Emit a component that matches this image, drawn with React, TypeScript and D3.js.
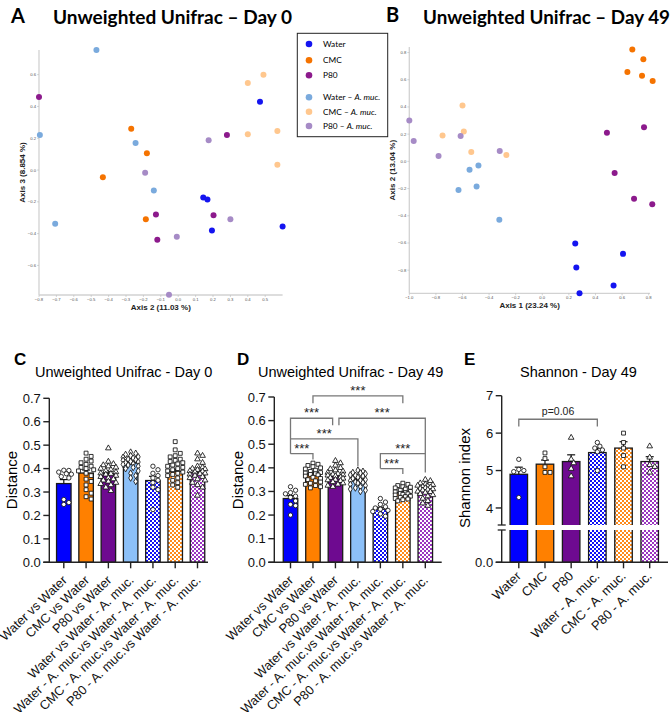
import React from 'react';
import * as d3 from 'd3';

// ---------------- PCoA (panels A & B) ----------------
const legendNames = ['Water', 'CMC', 'P80', 'Water – A. muc.', 'CMC – A. muc.', 'P80 – A. muc.'];
const pcoaColors = ['#1414F0', '#F57300', '#8C1A8C', '#7AAADD', '#FFC78E', '#A68BC6'];

const d0Water = [[0.47, 0.43], [0.144, -0.172], [0.168, -0.185], [0.194, -0.38], [0.6, -0.355]];
const d0CMC = [[-0.27, 0.26], [-0.18, 0.105], [-0.433, -0.046], [-0.186, -0.31]];
const d0P80 = [[-0.8, 0.46], [0.28, 0.22], [-0.128, -0.28], [0.203, -0.285], [-0.12, -0.438]];
const d0WaterAm = [[-0.47, 0.755], [-0.795, 0.22], [-0.245, 0.17], [-0.14, -0.128], [-0.707, -0.338]];
const d0CMCAm = [[0.4, 0.547], [0.49, 0.6], [0.4, 0.225], [0.57, 0.245], [0.57, 0.033]];
const d0P80Am = [[0.175, 0.187], [-0.19, -0.017], [0.3, -0.31], [-0.008, -0.42], [-0.053, -0.784]];

const d49Water = [[0.248, -0.603], [0.607, -0.68], [0.256, -0.78], [0.536, -0.912], [0.28, -0.97]];
const d49CMC = [[0.677, 0.823], [0.76, 0.75], [0.64, 0.657], [0.75, 0.63], [0.83, 0.59]];
const d49P80 = [[0.765, 0.25], [0.486, 0.21], [0.544, -0.086], [0.69, -0.275], [0.827, -0.316]];
const d49WaterAm = [[-0.48, -0.03], [-0.547, -0.062], [-0.63, -0.21], [-0.494, -0.184], [-0.323, -0.43]];
const d49CMCAm = [[-0.75, 0.19], [-0.6, 0.41], [-0.59, 0.22], [-0.534, 0.068], [-0.27, 0.046]];
const d49P80Am = [[-1.0, 0.3], [-0.967, 0.149], [-0.614, 0.186], [-0.78, 0.04], [-0.32, 0.076]];

const aXTicks = [-0.8, -0.7, -0.6, -0.5, -0.4, -0.3, -0.2, -0.1, 0, 0.1, 0.2, 0.3, 0.4, 0.5];
const aYTicks = [-0.6, -0.4, -0.2, 0, 0.2, 0.4, 0.6];
const bXTicks = [-1.0, -0.8, -0.6, -0.4, -0.2, 0, 0.2, 0.4, 0.6, 0.8];
const bYTicks = [-0.8, -0.6, -0.4, -0.2, 0, 0.2, 0.4, 0.6, 0.8];

// ---------------- Unifrac distances (panels C & D) ----------------
const unifracCategories = [
  'Water vs Water', 'CMC vs Water', 'P80 vs Water', 'Water vs Water - A. muc.',
  'Water - A. muc.vs Water - A. muc.', 'CMC - A. muc.vs Water - A. muc.', 'P80 - A. muc.vs Water - A. muc.',
];
const distTicks = [0, 0.1, 0.2, 0.3, 0.4, 0.5, 0.6, 0.7];

const day0Means = [0.336, 0.381, 0.378, 0.424, 0.349, 0.388, 0.384];
const day0Sems = [0.017, 0.013, 0.008, 0.006, 0.018, 0.009, 0.008];
const day0Points = [
  [0.393, 0.392, 0.385, 0.378, 0.376, 0.366, 0.36, 0.268, 0.255, 0.247],
  [0.466, 0.452, 0.44, 0.432, 0.425, 0.418, 0.41, 0.405, 0.4, 0.395, 0.39, 0.38, 0.37, 0.355, 0.345, 0.33, 0.31, 0.295, 0.28, 0.27],
  [0.487, 0.43, 0.42, 0.415, 0.41, 0.405, 0.4, 0.395, 0.39, 0.385, 0.38, 0.378, 0.375, 0.37, 0.365, 0.36, 0.355, 0.35, 0.345, 0.34, 0.335, 0.33, 0.32, 0.305],
  [0.47, 0.465, 0.46, 0.455, 0.45, 0.448, 0.445, 0.44, 0.438, 0.435, 0.43, 0.428, 0.425, 0.42, 0.418, 0.415, 0.41, 0.405, 0.4, 0.39, 0.38, 0.37, 0.36, 0.345],
  [0.41, 0.395, 0.38, 0.37, 0.36, 0.35, 0.34, 0.32, 0.31, 0.225],
  [0.515, 0.48, 0.465, 0.455, 0.45, 0.44, 0.435, 0.43, 0.425, 0.42, 0.415, 0.41, 0.405, 0.4, 0.395, 0.39, 0.385, 0.38, 0.375, 0.37, 0.36, 0.35, 0.34, 0.33, 0.32],
  [0.465, 0.455, 0.44, 0.425, 0.41, 0.405, 0.4, 0.398, 0.395, 0.39, 0.388, 0.385, 0.38, 0.378, 0.375, 0.37, 0.365, 0.36, 0.355, 0.35, 0.34, 0.33, 0.32, 0.285],
];

const day49Means = [0.27, 0.375, 0.366, 0.35, 0.225, 0.295, 0.31];
const day49Sems = [0.012, 0.006, 0.005, 0.005, 0.008, 0.004, 0.005];
const day49Points = [
  [0.32, 0.305, 0.295, 0.29, 0.28, 0.275, 0.26, 0.245, 0.24, 0.2],
  [0.42, 0.415, 0.41, 0.405, 0.4, 0.395, 0.39, 0.385, 0.38, 0.378, 0.375, 0.372, 0.37, 0.365, 0.36, 0.355, 0.35, 0.345, 0.34, 0.335, 0.33, 0.325, 0.32, 0.315],
  [0.43, 0.42, 0.41, 0.4, 0.395, 0.39, 0.385, 0.38, 0.375, 0.372, 0.37, 0.368, 0.365, 0.36, 0.358, 0.355, 0.35, 0.348, 0.345, 0.34, 0.335, 0.33, 0.325, 0.32],
  [0.39, 0.385, 0.38, 0.378, 0.375, 0.37, 0.368, 0.365, 0.36, 0.355, 0.35, 0.348, 0.345, 0.34, 0.338, 0.335, 0.33, 0.325, 0.32, 0.315, 0.31, 0.305, 0.3],
  [0.27, 0.255, 0.245, 0.235, 0.23, 0.225, 0.22, 0.215, 0.205, 0.195],
  [0.335, 0.33, 0.325, 0.32, 0.318, 0.315, 0.31, 0.305, 0.3, 0.298, 0.295, 0.292, 0.29, 0.288, 0.285, 0.28, 0.278, 0.275, 0.27, 0.268, 0.265, 0.26],
  [0.35, 0.345, 0.335, 0.33, 0.328, 0.325, 0.322, 0.32, 0.318, 0.315, 0.312, 0.31, 0.308, 0.305, 0.3, 0.298, 0.295, 0.29, 0.285, 0.28, 0.27, 0.26, 0.25, 0.24],
];
// comparisons: bar a, bar b, bracket level, leg end at a, leg end at b
const day49Comparisons = [
  { a: 1, b: 5, level: 0.705, endA: 0.674, endB: 0.674, label: '***' },
  { a: 0, b: 2, level: 0.61, endA: 0.46, endB: 0.58, label: '***' },
  { a: 0, b: 3, level: 0.523, endA: 0.523, endB: 0.407, label: '***' },
  { a: 0, b: 1, level: 0.46, endA: 0.46, endB: 0.435, label: '***' },
  { a: 2, b: 6, level: 0.61, endA: 0.58, endB: 0.38, label: '***' },
  { a: 4, b: 6, level: 0.46, endA: 0.397, endB: 0.46, label: '***' },
  { a: 4, b: 5, level: 0.397, endA: 0.397, endB: 0.374, label: '***' },
];

// ---------------- Shannon (panel E) ----------------
const shannonCategories = ['Water', 'CMC', 'P80', 'Water - A. muc.', 'CMC - A. muc.', 'P80 - A. muc.'];
const shannonMeans = [4.9, 5.17, 5.24, 5.48, 5.6, 5.24];
const shannonSems = [0.19, 0.11, 0.18, 0.12, 0.17, 0.13];
const shannonPoints = [
  [5.3, 5.03, 5.0, 4.97, 4.28],
  [5.47, 5.32, 5.1, 4.95, 4.95],
  [5.88, 5.3, 5.2, 5.05, 4.85],
  [5.75, 5.65, 5.6, 5.55, 5.5, 5.0],
  [6.0, 5.75, 5.6, 5.4, 5.1],
  [5.65, 5.35, 5.15, 5.1, 4.95],
];
const shannonTicks = [4, 5, 6, 7];
const shannonComparisons = [{ a: 0, b: 3, level: 6.37, endA: 6.18, endB: 6.18, label: 'p=0.06' }];

// ---------------- helpers ----------------
const fmt1 = d3.format('.1f');
const ARIAL = 'Liberation Sans, Arial, sans-serif';
const CAL = 'Lato, Liberation Sans, sans-serif';

function swarm(values: number[], y: (v: number) => number, r: number, maxOff: number) {
  const order = values.map((_, i) => i).sort((a, b) => values[b] - values[a]);
  const placed: { x: number; y: number }[] = [];
  const out: { dx: number; y: number }[] = new Array(values.length);
  const step = r * 1.15;
  const cands: number[] = [0];
  for (let k = 1; k * step <= maxOff + 0.01; k++) cands.push(k * step, -k * step);
  for (const i of order) {
    const py = y(values[i]);
    let best = 0;
    let bestD = -1;
    for (const c of cands) {
      let minD = Infinity;
      for (const p of placed) {
        const d = Math.hypot(p.x - c, p.y - py);
        if (d < minD) minD = d;
      }
      if (minD >= 2 * r) { best = c; bestD = minD; break; }
      if (minD > bestD) { bestD = minD; best = c; }
    }
    placed.push({ x: best, y: py });
    out[i] = { dx: best, y: py };
  }
  return out;
}

function LegendLabel({ text, x, y, size }: { text: string; x: number; y: number; size: number }) {
  const k = text.indexOf('A. muc.');
  if (k < 0) return <text x={x} y={y} fontSize={size} fontFamily={CAL} dy="0.35em">{text}</text>;
  return (
    <text x={x} y={y} fontSize={size} fontFamily={CAL} dy="0.35em">
      {text.slice(0, k)}<tspan fontStyle="italic">A. muc.</tspan>
    </text>
  );
}

function PcoaPanel(props: {
  xScale: d3.ScaleLinear<number, number>; yScale: d3.ScaleLinear<number, number>;
  xTicks: number[]; yTicks: number[]; data: number[][][];
  xTitle: string; yTitle: string; yTitleX: number;
}) {
  const { xScale, yScale, xTicks, yTicks, data, xTitle, yTitle, yTitleX } = props;
  const [x0, x1] = xScale.range();
  const [yb, yt] = yScale.range();
  return (
    <g>
      <line x1={x0} x2={x0} y1={yb} y2={yt} stroke="#d2d2d2" strokeWidth={1.3} />
      <line x1={x0} x2={x1} y1={yb} y2={yb} stroke="#d2d2d2" strokeWidth={1.3} />
      {yTicks.map((t) => (
        <g key={'y' + t}>
          <line x1={x0 - 2} x2={x0} y1={yScale(t)} y2={yScale(t)} stroke="#bbb" strokeWidth={0.6} />
          <text x={x0 - 3} y={yScale(t)} dy="0.35em" fontSize={4.2} textAnchor="end" fill="#555" fontFamily={ARIAL}>{fmt1(t)}</text>
        </g>
      ))}
      {xTicks.map((t) => (
        <g key={'x' + t}>
          <line x1={xScale(t)} x2={xScale(t)} y1={yb} y2={yb + 2} stroke="#bbb" strokeWidth={0.6} />
          <text x={xScale(t)} y={yb + 6} fontSize={4.2} textAnchor="middle" fill="#555" fontFamily={ARIAL}>{fmt1(t)}</text>
        </g>
      ))}
      {data.map((pts, gi) => pts.map((p, i) => (
        <circle key={gi + '-' + i} cx={xScale(p[0])} cy={yScale(p[1])} r={3} fill={pcoaColors[gi]} />
      )))}
      <text x={(x0 + x1) / 2} y={yb + 14.5} fontSize={8} fontWeight="bold" textAnchor="middle" fontFamily={ARIAL} fill="#222">{xTitle}</text>
      <text transform={`translate(${yTitleX},${(yb + yt) / 2}) rotate(-90)`} fontSize={8} fontWeight="bold" textAnchor="middle" fontFamily={ARIAL} fill="#222">{yTitle}</text>
    </g>
  );
}

type Comp = { a: number; b: number; level: number; endA: number; endB: number; label: string };

function BarPanel(props: {
  categories: string[]; means: number[]; sems: number[]; points: number[][];
  fills: string[]; shapes: d3.SymbolType[];
  first: number; last: number; barW: number;
  y: (v: number) => number; zeroY: number; topY: number;
  axisX: number; axisRight: number;
  ticks: { v: number; label: string; y: number }[];
  comps: Comp[]; compSize: number; labelAngle: number; labelDx: number; labelY: number; labelSize: number;
  brk?: [number, number];
}) {
  const p = props;
  const x = d3.scalePoint<string>().domain(p.categories).range([p.first, p.last]);
  const sym = (t: d3.SymbolType, s: number) => d3.symbol().type(t).size(s)() as string;
  return (
    <g>
      {p.categories.map((c, i) => (
        <rect key={'b' + i} x={(x(c) as number) - p.barW / 2} y={p.y(p.means[i])} width={p.barW}
          height={p.zeroY - p.y(p.means[i])} fill={p.fills[i]} stroke="#1a1a1a" strokeWidth={1.3} />
      ))}
      {p.categories.map((c, i) => {
        const cx = x(c) as number;
        const yt = p.y(p.means[i] + p.sems[i]);
        return (
          <g key={'e' + i} stroke="#111" strokeWidth={1.2}>
            <line x1={cx} x2={cx} y1={p.y(p.means[i])} y2={yt} />
            <line x1={cx - 4} x2={cx + 4} y1={yt} y2={yt} />
          </g>
        );
      })}
      {p.categories.map((c, i) => {
        const cx = x(c) as number;
        const pos = swarm(p.points[i], p.y, 2.2, p.barW / 2 + 1);
        const shape = p.shapes[i];
        const size = shape === d3.symbolCircle ? 15 : shape === d3.symbolSquare ? 15 : shape === d3.symbolDiamond ? 13 : 14;
        const path = sym(shape, size);
        return pos.map((q, j) => (
          <path key={'p' + i + '-' + j} d={path} transform={`translate(${cx + q.dx},${q.y})`} fill="#fff" stroke="#111" strokeWidth={0.85} />
        ));
      })}
      {/* axes */}
      <line x1={p.axisX} x2={p.axisX} y1={p.zeroY} y2={p.topY} stroke="#222" strokeWidth={1.4} />
      <line x1={p.axisX - 6} x2={p.axisRight} y1={p.zeroY} y2={p.zeroY} stroke="#222" strokeWidth={1.4} />
      {p.ticks.map((t) => (
        <g key={'t' + t.v}>
          <line x1={p.axisX - 6} x2={p.axisX} y1={t.y} y2={t.y} stroke="#222" strokeWidth={1.4} />
          <text x={p.axisX - 8.5} y={t.y} dy="0.36em" textAnchor="end" fontSize={13} fontFamily={ARIAL} fill="#111">{t.label}</text>
        </g>
      ))}
      {p.brk && (
        <g>
          <rect x={p.axisX - 8} y={p.brk[0]} width={p.axisRight - p.axisX + 8} height={p.brk[1] - p.brk[0]} fill="#fff" />
          <line x1={p.axisX - 4} x2={p.axisX + 4} y1={p.brk[0]} y2={p.brk[0]} stroke="#222" strokeWidth={1.3} />
          <line x1={p.axisX - 4} x2={p.axisX + 4} y1={p.brk[1]} y2={p.brk[1]} stroke="#222" strokeWidth={1.3} />
        </g>
      )}
      {p.categories.map((c, i) => {
        const cx = x(c) as number;
        return (
          <g key={'xl' + i}>
            <line x1={cx} x2={cx} y1={p.zeroY} y2={p.zeroY + 6} stroke="#222" strokeWidth={1.4} />
            <text transform={`translate(${cx + p.labelDx},${p.labelY}) rotate(${p.labelAngle})`} textAnchor="end"
              fontSize={p.labelSize} fontFamily={ARIAL} fill="#111">{c}</text>
          </g>
        );
      })}
      {p.comps.map((cp, k) => {
        const shared = (bar: number) => p.comps.some((o, kk) => kk !== k && o.level === cp.level && (o.a === bar || o.b === bar));
        const xa = (x(p.categories[cp.a]) as number) + (shared(cp.a) ? 3.5 : 0);
        const xb = (x(p.categories[cp.b]) as number) - (shared(cp.b) ? 2.8 : 0);
        const yl = p.y(cp.level);
        return (
          <g key={'c' + k}>
            <path d={`M${xa},${p.y(cp.endA)}V${yl}H${xb}V${p.y(cp.endB)}`} fill="none" stroke="#777" strokeWidth={1.3} />
            <text x={(xa + xb) / 2} y={yl - (cp.label === '***' ? 1 : 4)} textAnchor="middle" fontSize={p.compSize} fontFamily={ARIAL} fill="#222">{cp.label}</text>
          </g>
        );
      })}
    </g>
  );
}

export default function App() {
  const xA = d3.scaleLinear().domain([-0.8, 0.6]).range([39, 282.6]);
  const yA = d3.scaleLinear().domain([-0.786, 0.755]).range([295, 50]);
  const xB = d3.scaleLinear().domain([-1.0, 0.81]).range([409.3, 650]);
  const yB = d3.scaleLinear().domain([-0.97, 0.84]).range([293.3, 47.1]);

  const yC = d3.scaleLinear().domain([0, 0.7]).range([562.3, 398.3]);
  const yD = d3.scaleLinear().domain([0, 0.7]).range([562.3, 397]);
  const yEu = d3.scaleLinear().domain([3.55, 7]).range([524.8, 395.7]);

  const solid = ['#0000FF', '#FF8000', '#6E0A90'];
  const unifracFills = [...solid, '#8CC0F8', 'url(#chkBlue)', 'url(#chkOrange)', 'url(#chkPurple)'];
  const shannonFills = [...solid, 'url(#chkBlue)', 'url(#chkOrange)', 'url(#chkPurple)'];
  const unifracShapes = [d3.symbolCircle, d3.symbolSquare, d3.symbolTriangle, d3.symbolDiamond, d3.symbolCircle, d3.symbolSquare, d3.symbolTriangle];
  const shannonShapes = [d3.symbolCircle, d3.symbolSquare, d3.symbolTriangle, d3.symbolCircle, d3.symbolSquare, d3.symbolTriangle];

  const chk = (id: string, col: string) => (
    <pattern id={id} width={4} height={4} patternUnits="userSpaceOnUse">
      <rect width={4} height={4} fill={col} />
      <rect width={2} height={2} fill="#fff" />
      <rect x={2} y={2} width={2} height={2} fill="#fff" />
    </pattern>
  );

  const legendRows = [44, 60.3, 75.3, 97.3, 111.7, 126];

  return (
    <svg width={672} height={712} style={{ position: 'absolute', left: 0, top: 0, background: '#fff' }}>
      <defs>
        {chk('chkBlue', '#1010F5')}
        {chk('chkOrange', '#FF8A1A')}
        {chk('chkPurple', '#9A35C0')}
      </defs>
      <rect width={672} height={712} fill="#fff" />

      {/* Panel A */}
      <text x={11} y={23} fontSize={20} fontWeight="bold" fontFamily={CAL}>A</text>
      <text x={53} y={24} fontSize={19} fontWeight="bold" fontFamily={CAL} textLength={239} lengthAdjust="spacingAndGlyphs">Unweighted Unifrac – Day 0</text>
      <PcoaPanel xScale={xA} yScale={yA} xTicks={aXTicks} yTicks={aYTicks}
        data={[d0Water, d0CMC, d0P80, d0WaterAm, d0CMCAm, d0P80Am]}
        xTitle="Axis 2 (11.03 %)" yTitle="Axis 3 (8.854 %)" yTitleX={24.5} />

      {/* Panel B */}
      <text x={386} y={22} fontSize={20} fontWeight="bold" fontFamily={CAL}>B</text>
      <text x={423} y={24} fontSize={19} fontWeight="bold" fontFamily={CAL} textLength={247} lengthAdjust="spacingAndGlyphs">Unweighted Unifrac – Day 49</text>
      <PcoaPanel xScale={xB} yScale={yB} xTicks={bXTicks} yTicks={bYTicks}
        data={[d49Water, d49CMC, d49P80, d49WaterAm, d49CMCAm, d49P80Am]}
        xTitle="Axis 1 (23.24 %)" yTitle="Axis 2 (13.04 %)" yTitleX={395} />

      {/* Legend */}
      <rect x={297.3} y={33.3} width={90.4} height={103.4} fill="#fff" stroke="#222" strokeWidth={1} />
      {legendNames.map((n, i) => (
        <g key={'lg' + i}>
          <circle cx={309} cy={legendRows[i]} r={3.3} fill={pcoaColors[i]} />
          <LegendLabel text={n} x={323} y={legendRows[i]} size={8.3} />
        </g>
      ))}

      {/* Panel C */}
      <text x={14} y={365} fontSize={17} fontWeight="bold" fontFamily={ARIAL}>C</text>
      <text x={35} y={376.5} fontSize={14.5} fontFamily={ARIAL}>Unweighted Unifrac - Day 0</text>
      <text transform="translate(16.5,480) rotate(-90)" textAnchor="middle" fontSize={15} fontFamily={ARIAL}>Distance</text>
      <BarPanel categories={unifracCategories} means={day0Means} sems={day0Sems} points={day0Points}
        fills={unifracFills} shapes={unifracShapes} first={63.8} last={197.5} barW={14.5}
        y={yC} zeroY={562.3} topY={398.3} axisX={49.3} axisRight={208}
        ticks={distTicks.map((v) => ({ v, label: fmt1(v), y: yC(v) }))}
        comps={[]} compSize={13} labelAngle={-44} labelDx={4} labelY={581} labelSize={12.8} />

      {/* Panel D */}
      <text x={237} y={365} fontSize={17} fontWeight="bold" fontFamily={ARIAL}>D</text>
      <text x={258} y={376.5} fontSize={14.5} fontFamily={ARIAL}>Unweighted Unifrac - Day 49</text>
      <text transform="translate(243,480) rotate(-90)" textAnchor="middle" fontSize={15} fontFamily={ARIAL}>Distance</text>
      <BarPanel categories={unifracCategories} means={day49Means} sems={day49Sems} points={day49Points}
        fills={unifracFills} shapes={unifracShapes} first={290.5} last={425.3} barW={14.5}
        y={yD} zeroY={562.3} topY={397} axisX={274.3} axisRight={441.7}
        ticks={distTicks.map((v) => ({ v, label: fmt1(v), y: yD(v) }))}
        comps={day49Comparisons} compSize={13} labelAngle={-44} labelDx={3.5} labelY={581} labelSize={12.8} />

      {/* Panel E */}
      <text x={464} y={365} fontSize={17} fontWeight="bold" fontFamily={ARIAL}>E</text>
      <text x={520} y={376.5} fontSize={14.5} fontFamily={ARIAL}>Shannon - Day 49</text>
      <text transform="translate(469.5,478) rotate(-90)" textAnchor="middle" fontSize={15} fontFamily={ARIAL}>Shannon index</text>
      <BarPanel categories={shannonCategories} means={shannonMeans} sems={shannonSems} points={shannonPoints}
        fills={shannonFills} shapes={shannonShapes} first={518.8} last={649.7} barW={17.5}
        y={(v) => (v < 1 ? 562.3 : yEu(v))} zeroY={562.3} topY={395.7} axisX={501.7} axisRight={668}
        ticks={[...shannonTicks.map((v) => ({ v, label: String(v), y: yEu(v) })), { v: 0, label: '0.0', y: 562.3 }]}
        comps={shannonComparisons} compSize={10.5} labelAngle={-44} labelDx={3} labelY={577} labelSize={13}
        brk={[525, 530]} />
    </svg>
  );
}
